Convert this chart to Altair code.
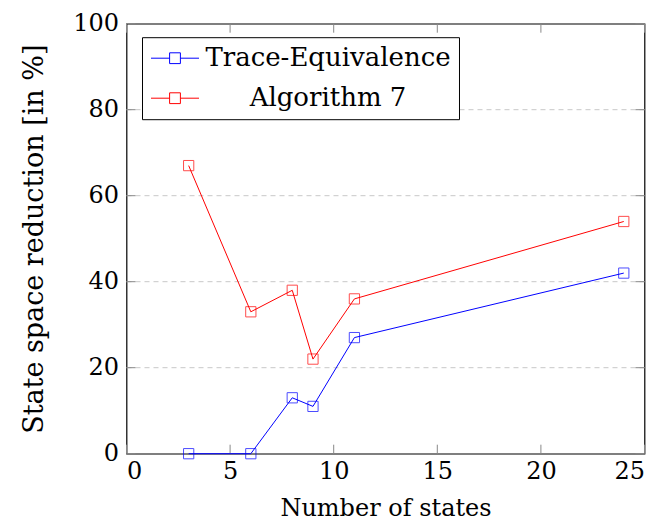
import altair as alt
import pandas as pd

states = [3, 6, 8, 9, 11, 24]
trace_eq = [0, 0, 13, 11, 27, 42]
algo7 = [67, 33, 38, 22, 36, 54]
series_names = ["Trace-Equivalence", "Algorithm 7"]
x_ticks = [0, 5, 10, 15, 20, 25]
y_ticks = [0, 20, 40, 60, 80, 100]

rows = []
for s, a, b in zip(states, trace_eq, algo7):
    rows.append({"states": s, "value": a, "series": series_names[0]})
    rows.append({"states": s, "value": b, "series": series_names[1]})
df = pd.DataFrame(rows)

W, H = 518, 430
FONT = "'DejaVu Serif', serif"

xs = alt.Scale(domain=[0, 25], nice=False)
ys = alt.Scale(domain=[0, 100], nice=False)
cscale = alt.Scale(domain=series_names, range=["#0000ff", "#ff0000"])
color = alt.Color(
    "series:N",
    scale=cscale,
    legend=alt.Legend(
        title=None,
        orient="none",
        legendX=15.5,
        legendY=13.5,
        fillColor="white",
        strokeColor="black",
        padding=8,
        symbolType="M-1,0H0.55M1.45,0H3M0.55,-0.45H1.45V0.45H0.55Z",
        symbolSize=576,
        symbolFillColor="transparent",
        symbolStrokeWidth=1,
        labelFont=FONT,
        labelFontSize=26,
        labelColor="black",
        labelLimit=400,
        labelAlign="center",
        labelOffset=152,
        rowPadding=14,
    ),
)

base = alt.Chart(df)

grid = alt.Chart(pd.DataFrame({"y": y_ticks[1:-1]})).mark_rule(
    color="#c8c8c8", strokeDash=[5, 4], strokeWidth=1
).encode(y=alt.Y("y:Q", scale=ys))

line = base.mark_line(strokeWidth=1).encode(
    x=alt.X(
        "states:Q",
        scale=xs,
        axis=alt.Axis(
            values=x_ticks, title="Number of states", grid=False, ticks=False,
            domain=False, labelPadding=6, titlePadding=13,
        ),
    ),
    y=alt.Y(
        "value:Q",
        scale=ys,
        axis=alt.Axis(
            values=y_ticks, title="State space reduction [in %]", grid=False,
            ticks=False, domain=False, labelPadding=8, titlePadding=24,
            titleFontSize=27,
        ),
    ),
    color=color,
)
points = base.mark_point(shape="square", size=105, filled=False, strokeWidth=1).encode(
    x=alt.X("states:Q", scale=xs),
    y=alt.Y("value:Q", scale=ys),
    color=alt.Color("series:N", scale=cscale, legend=None),
)

xt = pd.DataFrame({"t": x_ticks})
yt = pd.DataFrame({"t": y_ticks})
tick_style = dict(color="#888888", strokeWidth=1)
TL = 9
xb = alt.Chart(xt).mark_rule(**tick_style).encode(x=alt.X("t:Q", scale=xs), y=alt.value(H), y2=alt.value(H - TL))
xtop = alt.Chart(xt).mark_rule(**tick_style).encode(x=alt.X("t:Q", scale=xs), y=alt.value(0), y2=alt.value(TL))
yl = alt.Chart(yt).mark_rule(**tick_style).encode(y=alt.Y("t:Q", scale=ys), x=alt.value(0), x2=alt.value(TL))
yr = alt.Chart(yt).mark_rule(**tick_style).encode(y=alt.Y("t:Q", scale=ys), x=alt.value(W), x2=alt.value(W - TL))

chart = alt.layer(grid, xb, xtop, yl, yr, line, points).properties(
    width=W,
    height=H,
    background="white",
    autosize=alt.AutoSizeParams(type="none"),
    padding={"left": 118.5, "top": 15.7, "right": 9, "bottom": 70},
).configure_view(stroke="black", strokeWidth=1.2).configure_axis(
    labelFont=FONT, labelFontSize=24, labelColor="black",
    titleFont=FONT, titleFontSize=24, titleColor="black", titleFontWeight="normal",
)

chart.save("out.html", embed_options={"renderer": "svg", "actions": False})
